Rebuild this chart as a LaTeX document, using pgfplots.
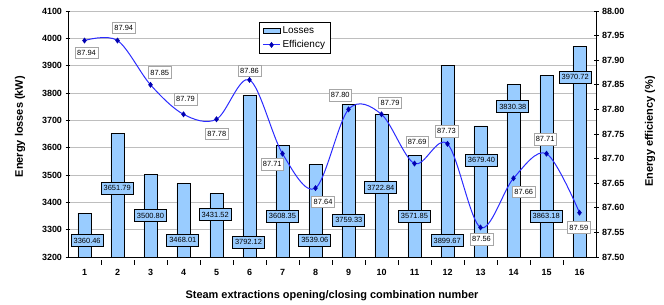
\documentclass[border=0pt]{standalone}
\usepackage{pgfplots}
\pgfplotsset{compat=1.18}
\usepackage{fontspec}
\setmainfont{Liberation Sans}
\definecolor{barblue}{HTML}{99CCFF}
\definecolor{lineblue}{HTML}{2B2BFF}
\definecolor{markblue}{HTML}{0000B0}
\definecolor{gridgray}{HTML}{BEBEBE}
\tikzset{
  lossl/.style={draw=black, line width=0.9bp, fill=barblue, font=\fontsize{7.5}{8}\selectfont, inner xsep=2.5bp, inner ysep=0bp, minimum height=12bp},
  effl/.style={draw=gray!70, line width=0.5bp, fill=white, font=\fontsize{7.5}{8}\selectfont, inner xsep=2bp, inner ysep=0bp, minimum height=11.5bp},
}
\pgfplotsset{
  common/.style={
    at={(68bp,48bp)}, anchor=south west,
    scale only axis, width=528bp, height=246bp,
    xmin=0.5, xmax=16.5,
    tick align=center,
    /pgf/number format/assume math mode=true,
    ticklabel style={font=\bfseries\fontsize{9}{10}\selectfont},
    major tick length=5bp,
    tick style={black, line width=0.7bp},
  }
}
\begin{document}
\begin{tikzpicture}
\useasboundingbox (0,0) rectangle (664bp,305bp);

\begin{axis}[common,
  ymin=3200, ymax=4100,
  ytick={3200,3300,3400,3500,3600,3700,3800,3900,4000,4100},
  yticklabel style={/pgf/number format/1000 sep={}},
  xtick={1,...,16},
  major x tick style={draw=none},
  minor xtick={1.5,2.5,...,15.5},
  minor tick length=5bp,
  minor x tick style={black, line width=0.8bp, yshift=-2.5bp},
  xticklabel style={yshift=-4bp},
  axis y line*=left, axis x line*=bottom,
  axis line style={black, line width=0.8bp},
  ymajorgrids, major grid style={gridgray, line width=0.6bp},
  ybar, bar width=0.4,
  xlabel={Steam extractions opening/closing combination number},
  xlabel style={at={([yshift=-39bp]axis description cs:0.5,0)}, anchor=center, font=\bfseries\fontsize{11}{12}\selectfont},
  ylabel={Energy losses (kW)},
  ylabel style={at={([xshift=-48bp]axis description cs:0,0.53)}, anchor=center, font=\bfseries\fontsize{11}{12}\selectfont},
]
\addplot[fill=barblue, draw=black, line width=0.8bp] table[x=n, y=loss] {
n loss
1 3360.46
2 3651.79
3 3500.80
4 3468.01
5 3431.52
6 3792.12
7 3608.35
8 3539.06
9 3759.33
10 3722.84
11 3571.85
12 3899.67
13 3679.40
14 3830.38
15 3863.18
16 3970.72
};
\node[lossl] at (axis cs:1.08,3260) {3360.46};
\node[lossl] at (axis cs:1.99,3451) {3651.79};
\node[lossl] at (axis cs:3.0,3351) {3500.80};
\node[lossl] at (axis cs:3.98,3262) {3468.01};
\node[lossl] at (axis cs:4.96,3354) {3431.52};
\node[lossl] at (axis cs:5.97,3254) {3792.12};
\node[lossl] at (axis cs:7.0,3350) {3608.35};
\node[lossl] at (axis cs:7.98,3262) {3539.06};
\node[lossl] at (axis cs:9.01,3335) {3759.33};
\node[lossl] at (axis cs:9.98,3454) {3722.84};
\node[lossl] at (axis cs:11.0,3350) {3571.85};
\node[lossl] at (axis cs:11.99,3260) {3899.67};
\node[lossl] at (axis cs:13.03,3555) {3679.40};
\node[lossl] at (axis cs:13.98,3750) {3830.38};
\node[lossl] at (axis cs:14.99,3350) {3863.18};
\node[lossl] at (axis cs:15.87,3857) {3970.72};
\end{axis}

\begin{axis}[common,
  ymin=87.5, ymax=88.0,
  ytick={87.50,87.55,87.60,87.65,87.70,87.75,87.80,87.85,87.90,87.95,88.00},
  yticklabel style={/pgf/number format/fixed, /pgf/number format/fixed zerofill, /pgf/number format/precision=2},
  axis y line*=right, axis x line=none,
  axis line style={black, line width=0.8bp},
  ylabel={Energy efficiency (\%)},
  ylabel style={at={([xshift=54bp]axis description cs:1,0.51)}, anchor=center, font=\bfseries\fontsize{11}{12}\selectfont},
  legend style={at={(0.362,0.956)}, anchor=north west, draw=black, line width=0.8bp, fill=white,
    font=\fontsize{10}{12}\selectfont, inner xsep=3bp, inner ysep=2.5bp, row sep=1.5bp},
  legend cell align=left,
]
\addlegendimage{area legend, fill=barblue, draw=black, line width=0.8bp}
\addlegendentry{Losses}
\addplot[lineblue, line width=1bp, smooth, tension=0.55, mark=diamond*, mark size=2.6bp,
  mark options={fill=markblue, draw=markblue, line width=0.5bp}] table[x=n, y=eff] {
n eff
1 87.94
2 87.94
3 87.85
4 87.79
5 87.78
6 87.86
7 87.71
8 87.64
9 87.80
10 87.79
11 87.69
12 87.73
13 87.56
14 87.66
15 87.71
16 87.59
};
\addlegendentry{Efficiency}
\node[effl] at (axis cs:1.06,87.915) {87.94};
\node[effl] at (axis cs:2.19,87.966) {87.94};
\node[effl] at (axis cs:3.28,87.875) {87.85};
\node[effl] at (axis cs:4.06,87.821) {87.79};
\node[effl] at (axis cs:5.01,87.750) {87.78};
\node[effl] at (axis cs:6.0,87.879) {87.86};
\node[effl] at (axis cs:6.69,87.689) {87.71};
\node[effl] at (axis cs:8.23,87.612) {87.64};
\node[effl] at (axis cs:8.75,87.829) {87.80};
\node[effl] at (axis cs:10.26,87.814) {87.79};
\node[effl] at (axis cs:11.08,87.734) {87.69};
\node[effl] at (axis cs:11.97,87.756) {87.73};
\node[effl] at (axis cs:13.03,87.536) {87.56};
\node[effl] at (axis cs:14.31,87.633) {87.66};
\node[effl] at (axis cs:14.96,87.739) {87.71};
\node[effl] at (axis cs:15.98,87.560) {87.59};
\end{axis}
\end{tikzpicture}
\end{document}
